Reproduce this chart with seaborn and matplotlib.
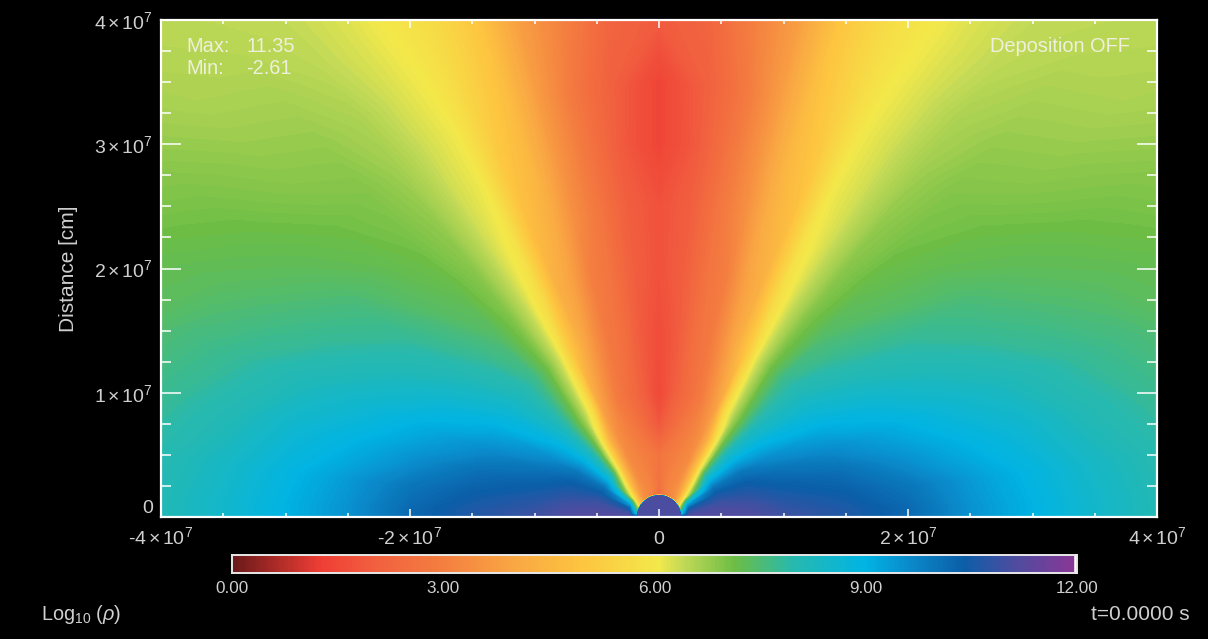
import numpy as np
import matplotlib
matplotlib.use('Agg')
import matplotlib.pyplot as plt
import seaborn as sns
from matplotlib.colors import LinearSegmentedColormap
from matplotlib.ticker import MultipleLocator

# Colour bar stops
cmap_values = [0.0, 0.3, 1.25, 2.0, 3.0, 4.0, 5.0, 6.05, 6.4, 7.15, 7.97, 9.0, 9.6, 10.4, 11.1, 12.0]
cmap_colors = ['#6b1a1a', '#8a2220', '#ef3e36', '#f15f3f', '#f47f40', '#f9a743', '#fdc640', '#f3e84a',
               '#c3d957', '#6cbd45', '#27b9ae', '#00b4e4', '#0a8ccb', '#0b5ea8', '#4b4da0', '#8a3795']

# Log10(rho) estimated along rays, r in units of 1e7 cm, theta in degrees from the axis
radius = [0.0, 0.17, 0.18, 0.25, 0.5, 0.75, 1.0, 1.5, 2.0, 2.5, 3.0, 3.5, 4.0, 4.5, 5.0, 5.7]
theta = [0, 6, 11, 16, 20, 24, 28, 32, 37, 42, 48, 55, 62, 69, 76, 83, 88, 89.8, 90]
rho_0 = [11.1, 11.1, 2.2, 2.5, 2.6, 1.8, 1.5, 1.6, 1.7, 1.7, 1.4, 1.4, 1.9, 2.0, 2.0, 2.0]
rho_6 = [11.1, 11.1, 2.6, 2.8, 2.8, 2.2, 1.9, 1.9, 2.0, 2.0, 1.9, 2.0, 2.2, 2.3, 2.3, 2.3]
rho_11 = [11.1, 11.1, 2.8, 3.0, 2.9, 2.5, 2.3, 2.5, 2.6, 2.7, 2.7, 2.7, 3.0, 3.0, 3.0, 3.0]
rho_16 = [11.1, 11.1, 3.0, 3.1, 3.0, 2.8, 2.6, 2.8, 3.0, 3.4, 3.6, 3.7, 3.8, 3.9, 3.9, 3.9]
rho_20 = [11.1, 11.1, 3.0, 3.2, 3.1, 3.0, 2.9, 3.4, 3.8, 4.2, 4.5, 4.7, 4.9, 5.0, 5.0, 5.0]
rho_24 = [11.1, 11.1, 3.1, 3.2, 3.2, 3.2, 3.4, 4.1, 4.3, 4.7, 5.0, 5.3, 5.5, 5.6, 5.7, 5.7]
rho_28 = [11.1, 11.1, 3.2, 3.3, 3.3, 3.5, 3.9, 5.0, 5.6, 5.9, 6.05, 6.05, 6.0, 5.95, 5.9, 5.9]
rho_32 = [11.1, 11.1, 3.2, 3.4, 3.8, 4.2, 5.6, 6.2, 6.3, 6.3, 6.3, 6.3, 6.25, 6.2, 6.2, 6.15]
rho_37 = [11.1, 11.1, 3.3, 3.6, 4.8, 5.8, 6.6, 7.1, 7.0, 6.9, 6.8, 6.7, 6.6, 6.45, 6.4, 6.3]
rho_42 = [11.1, 11.1, 3.5, 3.9, 6.2, 7.2, 7.4, 7.7, 7.4, 7.2, 7.05, 6.95, 6.8, 6.65, 6.5, 6.4]
rho_48 = [11.1, 11.1, 4.0, 4.8, 7.8, 8.3, 8.3, 8.1, 7.7, 7.4, 7.25, 7.1, 6.9, 6.75, 6.6, 6.5]
rho_55 = [11.1, 11.1, 4.7, 6.0, 9.0, 9.2, 9.0, 8.6, 8.1, 7.8, 7.55, 7.3, 7.15, 7.0, 6.85, 6.7]
rho_62 = [11.1, 11.1, 5.5, 8.0, 10.0, 10.0, 9.6, 9.1, 8.6, 8.15, 7.8, 7.55, 7.35, 7.2, 7.05, 6.95]
rho_69 = [11.1, 11.1, 6.5, 9.5, 10.5, 10.4, 10.1, 9.6, 9.1, 8.6, 8.2, 7.85, 7.6, 7.35, 7.2, 7.05]
rho_76 = [11.1, 11.1, 7.5, 10.5, 10.9, 10.7, 10.4, 10.1, 9.5, 9.0, 8.6, 8.1, 7.8, 7.55, 7.4, 7.3]
rho_83 = [11.1, 11.1, 8.5, 11.0, 11.1, 11.0, 10.7, 10.4, 10.0, 9.4, 8.9, 8.4, 8.0, 7.75, 7.6, 7.5]
rho_88 = [11.1, 11.1, 10.0, 11.1, 11.2, 11.1, 10.9, 10.6, 10.2, 9.5, 9.0, 8.5, 8.1, 7.8, 7.65, 7.55]
rho_898 = [11.1, 11.1, 10.5, 11.1, 11.2, 11.1, 10.9, 10.6, 10.2, 9.5, 9.0, 8.5, 8.1, 7.8, 7.65, 7.55]
rho_90 = [11.1, 11.1, 9.0, 9.5, 10.0, 10.0, 10.0, 9.5, 8.5, 7.0, 6.0, 5.8, 5.6, 5.5, 5.5, 5.5]

x_ticks = [-4e7, -2e7, 0, 2e7, 4e7]
x_labels = ['-4$\\,$×$\\,$10$^{7}$', '-2$\\,$×$\\,$10$^{7}$', '0', '2$\\,$×$\\,$10$^{7}$', '4$\\,$×$\\,$10$^{7}$']
y_ticks = [0, 1e7, 2e7, 3e7, 4e7]
y_labels = ['0', '1$\\,$×$\\,$10$^{7}$', '2$\\,$×$\\,$10$^{7}$', '3$\\,$×$\\,$10$^{7}$', '4$\\,$×$\\,$10$^{7}$']
cbar_ticks = [0, 3, 6, 9, 12]
cbar_labels = ['0.00', '3.00', '6.00', '9.00', '12.00']

sns.set_theme(style='dark', rc={'figure.facecolor': 'black', 'axes.facecolor': 'black', 'axes.axisbelow': False})
plt.rcParams['font.family'] = ['Liberation Sans', 'DejaVu Sans']
plt.rcParams['mathtext.fontset'] = 'custom'
plt.rcParams['mathtext.rm'] = 'Liberation Sans'
plt.rcParams['mathtext.it'] = 'Liberation Sans:italic'
plt.rcParams['mathtext.default'] = 'regular'

W, H = 1208, 639
text_col = '#cfcfcf'
cmap = LinearSegmentedColormap.from_list('rho', [(v / 12.0, c) for v, c in zip(cmap_values, cmap_colors)], N=512)

fig = plt.figure(figsize=(W / 100, H / 100), dpi=100, facecolor='black')
ax = fig.add_axes([161 / W, 1 - 517 / H, 996 / W, 497 / H], facecolor='black')

# Field on the polar mesh, mirrored about the axis
rho = np.array([rho_0, rho_6, rho_11, rho_16, rho_20, rho_24, rho_28, rho_32, rho_37, rho_42, rho_48,
                rho_55, rho_62, rho_69, rho_76, rho_83, rho_88, rho_898, rho_90])
rr, tt = np.meshgrid(radius, np.radians(theta))
levels = np.linspace(0, 12, 241)
for side in (1, -1):
    ax.contourf(side * rr * np.sin(tt) * 1e7, rr * np.cos(tt) * 1e7, rho, levels=levels, cmap=cmap)

ax.set_xlim(-4e7, 4e7)
ax.set_ylim(0, 4e7)
ax.set_xticks(x_ticks, x_labels)
ax.set_yticks(y_ticks, y_labels)
ax.xaxis.set_minor_locator(MultipleLocator(5e6))
ax.yaxis.set_minor_locator(MultipleLocator(2.5e6))
ax.tick_params(axis='x', which='major', direction='in', length=5.8, width=1.1, color='white',
               top=True, bottom=True, labelsize=14, labelcolor=text_col, pad=19.5)
ax.tick_params(axis='x', which='minor', direction='in', length=2.9, width=1.1, color='white', top=True, bottom=True)
ax.tick_params(axis='y', which='major', direction='in', length=14.4, width=1.1, color='white',
               left=True, right=True, labelsize=14, labelcolor=text_col, pad=6)
ax.tick_params(axis='y', which='minor', direction='in', length=7.2, width=1.1, color='white', left=True, right=True)
for lab in ax.get_xticklabels():
    lab.set_va('baseline')
ax.get_yticklabels()[0].set_va('bottom')
for spine in ax.spines.values():
    spine.set_color('white')
    spine.set_linewidth(1.6)
ax.set_ylabel('Distance [cm]', color=text_col, fontsize=15)
ax.yaxis.set_label_coords((78 - 161) / 996, 0.5)

note = '#eef0dc'
fig.text(186 / W, 1 - 46 / H, 'Max:', color=note, fontsize=14.4, va='center')
fig.text(247 / W, 1 - 46 / H, '11.35', color=note, fontsize=14.4, va='center')
fig.text(186 / W, 1 - 69 / H, 'Min:', color=note, fontsize=14.4, va='center')
fig.text(246 / W, 1 - 69 / H, '-2.61', color=note, fontsize=14.4, va='center')
fig.text(1130 / W, 1 - 47 / H, 'Deposition OFF', color=note, fontsize=14.4, va='center', ha='right')

# Colour bar as a one row heatmap
cax = fig.add_axes([232 / W, 1 - 573 / H, 845 / W, 18 / H], facecolor='black')
ramp = np.linspace(0, 12, 600).reshape(1, -1)
sns.heatmap(ramp, ax=cax, cmap=cmap, vmin=0, vmax=12, cbar=False, xticklabels=False, yticklabels=False)
cax.set_xticks([t / 12 * ramp.shape[1] for t in cbar_ticks], cbar_labels)
cax.tick_params(axis='x', length=0, labelsize=12.3, labelcolor=text_col, pad=6)
cax.set_xlabel('')
cax.set_ylabel('')
cax.axvline(ramp.shape[1], color='white', lw=4)
for spine in cax.spines.values():
    spine.set_visible(True)
    spine.set_color('#e8e8e8')
    spine.set_linewidth(1.4)

fig.text(41 / W, 1 - 615 / H, 'Log$_{10}$ ($\\mathit{\\rho}$)', color=text_col, fontsize=14.3, va='center')
fig.text(1190 / W, 1 - 615 / H, 't=0.0000 s', color=text_col, fontsize=15, va='center', ha='right')

fig.savefig('out.png', dpi=100, facecolor='black')
